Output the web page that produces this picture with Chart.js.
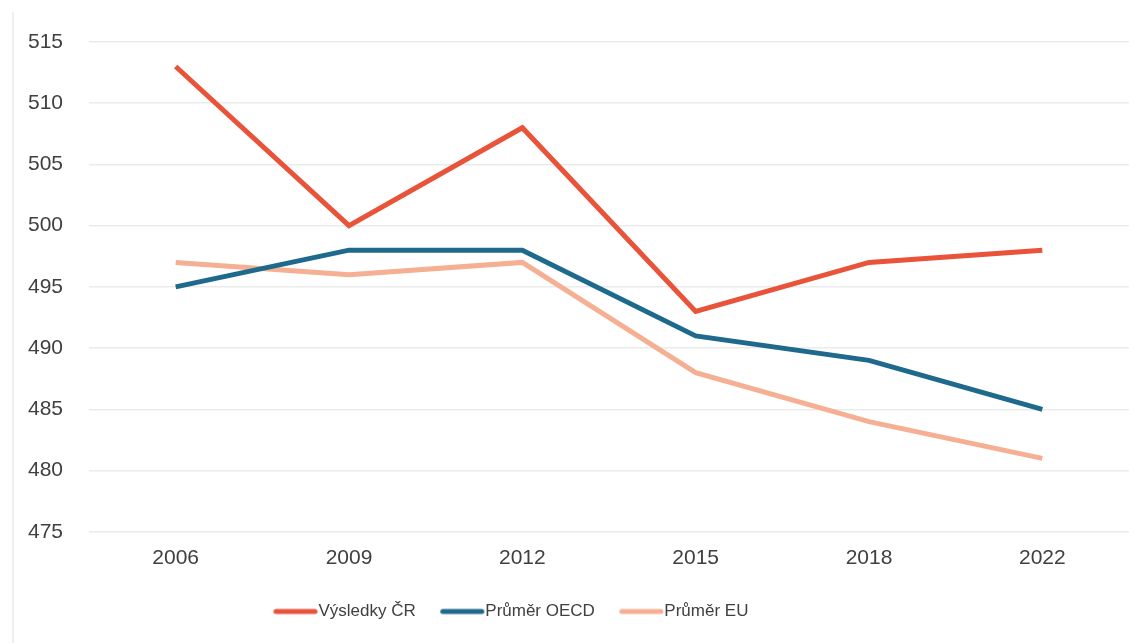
<!DOCTYPE html>
<html>
<head>
<meta charset="utf-8">
<script src="https://cdn.jsdelivr.net/npm/chart.js@4/dist/chart.umd.min.js"></script>
<style>
  html, body { margin: 0; padding: 0; background: #fff; }
  #wrap { position: relative; width: 1144px; height: 643px; }
  #edge { position: absolute; left: 12px; top: 12px; bottom: 0; width: 2px; background: #efefef; }
</style>
</head>
<body>
<div id="wrap">
  <div id="edge"></div>
  <canvas id="chart" width="1144" height="643"></canvas>
</div>
<script>
const years = ["2006", "2009", "2012", "2015", "2018", "2022"];
const vysledkyCR = [513, 500, 508, 493, 497, 498];
const prumerOECD = [495, 498, 498, 491, 489, 485];
const prumerEU = [497, 496, 497, 488, 484, 481];

const red = "#e8533a";
const blue = "#1f6a8c";
const peach = "#f5b093";

const LEGEND_FONT = 17;
const MARK_W = 44;

// legend marker: a short rounded line sitting right before the text
function legendMark(color) {
  const c = document.createElement("canvas");
  c.width = 2 * (MARK_W / 2 + LEGEND_FONT / 2) + 2;
  c.height = 8;
  const g = c.getContext("2d");
  const end = c.width / 2 + MARK_W / 2 + LEGEND_FONT / 2 - 1;
  g.strokeStyle = color;
  g.lineWidth = 5;
  g.lineCap = "round";
  g.beginPath();
  g.moveTo(end - MARK_W + 2.5, 4);
  g.lineTo(end - 2.5, 4);
  g.stroke();
  return c;
}

function line(label, data, color) {
  return {
    label, data,
    borderColor: color,
    backgroundColor: color,
    borderWidth: 5,
    borderJoinStyle: "miter",
    pointRadius: 0,
    pointStyle: legendMark(color),
    tension: 0,
  };
}

const shiftLegend = {
  id: "shiftLegend",
  afterLayout(chart) {
    if (chart.legend) chart.legend.left = 249;
  },
};

new Chart(document.getElementById("chart"), {
  type: "line",
  data: {
    labels: years,
    datasets: [
      line("Výsledky ČR", vysledkyCR, red),
      line("Průměr OECD", prumerOECD, blue),
      line("Průměr EU", prumerEU, peach),
    ],
  },
  options: {
    responsive: false,
    animation: false,
    layout: { padding: { left: 28, right: 15, top: 42, bottom: 13 } },
    scales: {
      y: {
        min: 475, max: 515,
        ticks: { stepSize: 5, color: "#404040", font: { family: "Liberation Sans", size: 21 }, crossAlign: "far", padding: 4 },
        grid: { color: "#ebebeb", lineWidth: 1.5, drawTicks: false },
        border: { display: false },
        afterFit: (axis) => { axis.width = 61; },
      },
      x: {
        offset: true,
        ticks: { color: "#404040", font: { family: "Liberation Sans", size: 21 }, padding: 6 },
        grid: { display: false },
        border: { display: false },
        afterFit: (axis) => { axis.height += 9; },
      },
    },
    plugins: {
      legend: {
        position: "bottom",
        align: "start",
        labels: {
          usePointStyle: true,
          pointStyleWidth: MARK_W,
          color: "#404040",
          padding: 17,
          font: { family: "Liberation Sans", size: LEGEND_FONT },
        },
      },
      tooltip: { enabled: false },
    },
  },
  plugins: [shiftLegend],
});
</script>
</body>
</html>
